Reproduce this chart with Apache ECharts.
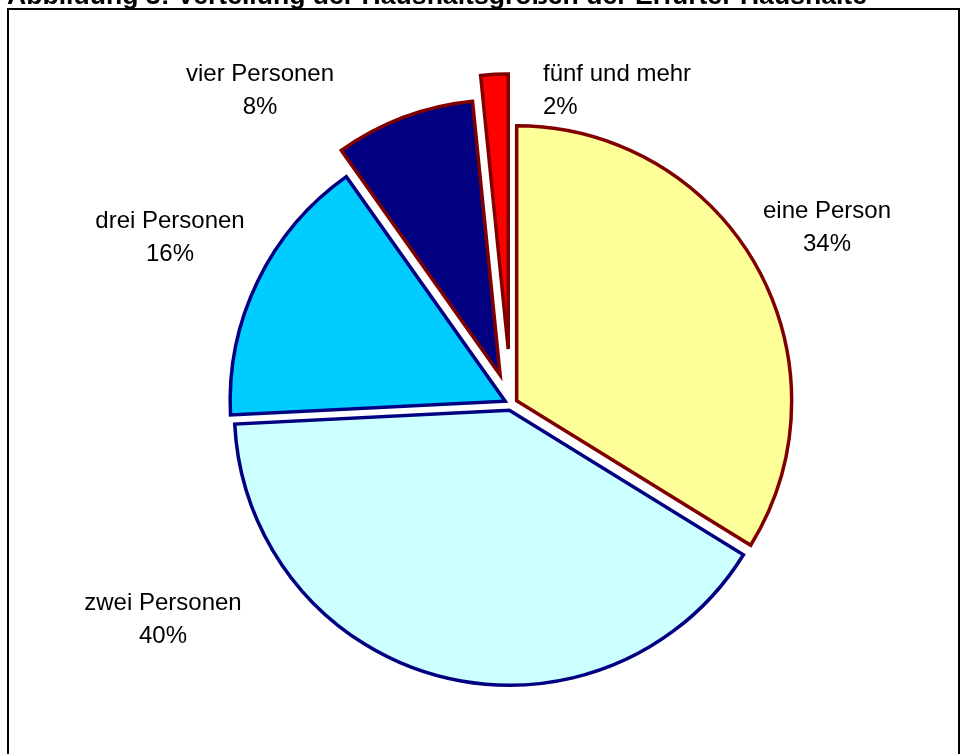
<!DOCTYPE html>
<html>
<head>
<meta charset="utf-8">
<script src="https://cdn.jsdelivr.net/npm/echarts@6/dist/echarts.min.js"></script>
<style>
  html, body { margin: 0; padding: 0; background: #fff; }
  #chart { width: 965px; height: 754px; }
</style>
</head>
<body>
<div id="chart"></div>
<script>
// Daten (Anteile in %, im Bild gerundet beschriftet)
var categories = ['eine Person', 'zwei Personen', 'drei Personen', 'vier Personen', 'fünf und mehr'];
var shares = [33.8, 40.4, 16.0, 8.2, 1.6];

// Stile
var fills = ['#FFFF99', '#CCFFFF', '#00CCFF', '#000080', '#FF0000'];
var borders = ['#800000', '#000080', '#000080', '#800000', '#800000'];
var explode = [6.5, 6.5, 6.5, 31, 55];          // Abstand vom Mittelpunkt, px
var labelPos = [                                  // Beschriftungen (x, y, Ausrichtung)
    [827, 228, 'center'],
    [163, 620, 'center'],
    [170, 238, 'center'],
    [260, 91, 'center'],
    [543, 91, 'left']
];
var cx = 511, cy = 404, radius = 275;
var font = '"Liberation Sans", Arial, sans-serif';

var total = shares.reduce(function (a, b) { return a + b; }, 0);
var series = [];
var acc = 0;
shares.forEach(function (v, i) {
    var mid = (acc + v / 2) / total * 2 * Math.PI;   // im Uhrzeigersinn ab 12 Uhr
    acc += v;
    var c = [cx + explode[i] * Math.sin(mid), cy - explode[i] * Math.cos(mid)];
    series.push({
        type: 'pie',
        radius: radius,
        center: c,
        startAngle: 90,
        clockwise: true,
        silent: true,
        animation: false,
        avoidLabelOverlap: false,
        percentPrecision: 0,
        emphasis: { disabled: true },
        labelLine: { show: false },
        label: {
            position: 'outside',
            formatter: '{b}\n{d}%',
            fontFamily: font,
            fontSize: 24,
            lineHeight: 33,
            color: '#000'
        },
        labelLayout: function (p) {
            if (p.dataIndex !== i) return {};
            return { x: labelPos[i][0], y: labelPos[i][1], align: labelPos[i][2], verticalAlign: 'middle' };
        },
        data: categories.map(function (name, j) {
            return {
                name: name,
                value: shares[j],
                label: { show: j === i },
                itemStyle: j === i
                    ? { color: fills[j], borderColor: borders[j], borderWidth: 3.5, borderJoin: 'miter', borderMiterLimit: 10 }
                    : { color: 'rgba(0,0,0,0)', borderWidth: 0 }
            };
        })
    });
});

var option = {
    backgroundColor: '#fff',
    graphic: [
        {   // Rahmen
            type: 'rect',
            shape: { x: 8, y: 9, width: 951, height: 800 },
            style: { fill: 'none', stroke: '#000', lineWidth: 2 },
            silent: true
        },
        {   // Titel (oben abgeschnitten)
            type: 'text',
            x: 7,
            y: 10,
            style: {
                text: 'Abbildung 3: Verteilung der Haushaltsgrößen der Erfurter Haushalte',
                font: 'bold 26.6px ' + font,
                fill: '#000',
                verticalAlign: 'bottom'
            },
            silent: true
        }
    ],
    series: series
};

var myChart = echarts.init(document.getElementById('chart'));
myChart.setOption(option, true);
</script>
</body>
</html>
